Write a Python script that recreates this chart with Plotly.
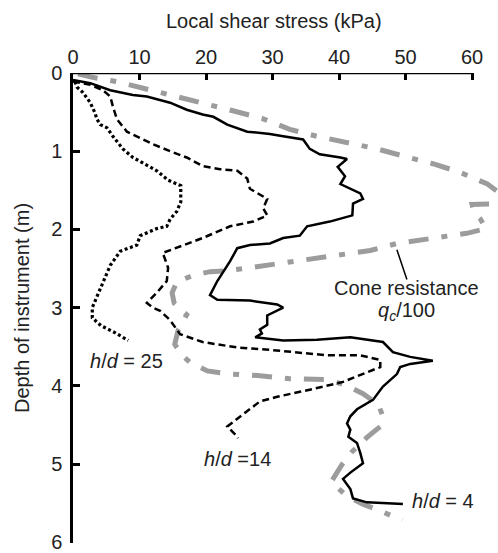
import plotly.graph_objects as go

# ---- data ----
# h/d = 4 (solid)
s4_x = [0, 2.6, 5.6, 9.0, 11.1, 14.6, 17.1, 19.5, 21.1, 23.2, 26.2, 29.6, 31.6, 34.6, 35.6, 37.1,
        40.2, 41.2, 39.8, 40.9, 40.2, 41.7, 43.2, 43.6, 42.1, 42.0, 38.6, 35.2, 34.1, 31.6, 29.6,
        26.6, 24.7, 23.6, 21.7, 20.6, 21.7, 26.6, 30.7, 31.6, 30.1, 29.2, 29.2, 28.1, 28.4, 27.4,
        31.6, 36.7, 41.7, 46.6, 48.1, 50.7, 54.1, 50.7, 49.2, 48.7, 46.6, 45.1, 42.7, 41.7, 41.2,
        41.7, 41.4, 42.7, 43.2, 43.6, 41.7, 40.6, 41.7, 42.1, 44.2, 49.6]
s4_y = [0.09, 0.13, 0.22, 0.28, 0.30, 0.38, 0.47, 0.53, 0.56, 0.66, 0.75, 0.78, 0.81, 0.85, 0.97, 1.04,
        1.08, 1.10, 1.20, 1.32, 1.42, 1.48, 1.54, 1.61, 1.67, 1.82, 1.90, 1.96, 2.08, 2.11, 2.18,
        2.20, 2.24, 2.41, 2.66, 2.84, 2.90, 2.91, 2.96, 3.00, 3.06, 3.10, 3.22, 3.28, 3.33, 3.38,
        3.42, 3.41, 3.38, 3.44, 3.57, 3.63, 3.68, 3.72, 3.76, 3.85, 4.01, 4.18, 4.30, 4.39, 4.48,
        4.56, 4.65, 4.73, 4.86, 4.99, 5.11, 5.19, 5.32, 5.44, 5.49, 5.51]

# h/d = 14 (dashed)
s14_x = [0, 2.6, 4.5, 5.6, 6.0, 6.6, 8.1, 9.6, 12.0, 14.6, 17.1, 19.5, 22.1, 24.7, 26.2, 26.6,
         28.1, 29.2, 28.6, 29.2, 27.1, 23.6, 19.5, 14.6, 13.5, 14.3, 14.1, 12.6, 11.1, 12.0, 13.1,
         14.6, 16.1, 19.5, 24.7, 29.6, 33.1, 38.2, 43.2, 46.2, 46.2, 43.6, 40.6, 35.6, 30.7, 28.1,
         26.6, 24.7, 23.2, 24.7, 24.8]
s14_y = [0.11, 0.15, 0.22, 0.30, 0.43, 0.59, 0.75, 0.81, 0.91, 1.00, 1.08, 1.19, 1.23, 1.25, 1.35, 1.48,
         1.56, 1.61, 1.73, 1.82, 1.90, 1.96, 2.11, 2.27, 2.30, 2.49, 2.66, 2.81, 2.94, 3.00, 3.04,
         3.16, 3.34, 3.44, 3.51, 3.54, 3.57, 3.61, 3.61, 3.67, 3.76, 3.85, 3.95, 4.05, 4.14, 4.20,
         4.30, 4.43, 4.52, 4.65, 4.67]

# h/d = 25 (dotted)
s25_x = [0.3, 0.6, 1.5, 2.3, 2.6, 3.3, 3.6, 4.1, 5.1, 6.0, 7.5, 9.0, 11.1, 12.6, 14.3, 16.2, 16.2,
         15.6, 14.6, 14.1, 12.6, 10.1, 9.6, 7.1, 5.6, 4.5, 3.5, 2.9, 2.9, 4.2, 6.3, 8.3]
s25_y = [0.11, 0.18, 0.25, 0.34, 0.38, 0.51, 0.59, 0.66, 0.70, 0.81, 0.97, 1.08, 1.18, 1.25, 1.37, 1.44, 1.65,
         1.77, 1.87, 1.96, 1.99, 2.08, 2.20, 2.28, 2.46, 2.68, 2.87, 3.00, 3.13, 3.23, 3.32, 3.42]

# cone resistance qc/100 (grey dash-dot)
qc_x = [0.75, 2.6, 6.6, 10.5, 15.0, 19.5, 23.9, 28.4, 32.6, 36.7, 41.2, 45.7, 49.6, 54.1, 58.2, 62.3,
        63.9, 65.0, 60.0, 60.3, 61.2, 62.1, 59.2, 56.7, 53.2, 48.7, 44.7, 39.7, 35.6, 31.6, 26.6,
        23.2, 20.6, 18.0, 15.6, 14.9, 15.2, 17.1, 15.8, 15.3, 16.4, 17.6, 20.2, 23.6, 28.1, 32.6,
        38.2, 40.9, 43.6, 45.9, 46.6, 46.2, 44.2, 42.0, 40.5, 38.8, 41.2, 43.5, 46.5, 49.5]
qc_y = [0.01, 0.05, 0.11, 0.19, 0.29, 0.38, 0.48, 0.58, 0.72, 0.81, 0.89, 0.97, 1.06, 1.16, 1.27, 1.42,
        1.52, 1.67, 1.68, 1.78, 1.86, 1.99, 2.05, 2.08, 2.11, 2.18, 2.27, 2.33, 2.37, 2.43, 2.49,
        2.53, 2.54, 2.59, 2.67, 2.81, 2.94, 3.09, 3.29, 3.47, 3.61, 3.70, 3.81, 3.85, 3.87, 3.91,
        3.92, 3.99, 4.10, 4.24, 4.39, 4.52, 4.66, 4.84, 5.00, 5.23, 5.41, 5.51, 5.61, 5.72]

x_ticks = [0, 10, 20, 30, 40, 50, 60]
y_ticks = [0, 1, 2, 3, 4, 5, 6]

FONT = "Liberation Sans, Arial, sans-serif"
fig = go.Figure()

fig.add_trace(go.Scatter(x=qc_x, y=qc_y, mode="lines",
                         line=dict(color="#9c9c9c", width=5, dash="20px,13px,6px,13px")))
fig.add_trace(go.Scatter(x=s25_x, y=s25_y, mode="lines",
                         line=dict(color="black", width=3.2, dash="3px,2.6px")))
fig.add_trace(go.Scatter(x=s14_x, y=s14_y, mode="lines",
                         line=dict(color="black", width=2.5, dash="7px,4px")))
fig.add_trace(go.Scatter(x=s4_x, y=s4_y, mode="lines",
                         line=dict(color="black", width=2.5)))

# top axis line from 0 to 60
fig.add_shape(type="line", x0=0, x1=60, y0=0, y1=0, xref="x", yref="y",
              line=dict(color="black", width=2.5), layer="above")
# leader line for cone resistance label
fig.add_shape(type="line", x0=48.7, y0=2.26, x1=50.2, y1=2.64, xref="x", yref="y",
              line=dict(color="black", width=1.5))

ann_font = dict(family=FONT, size=20, color="#222")
annotations = [
    dict(x=8.1, y=3.68, text="<i>h</i>/<i>d</i> = 25"),
    dict(x=24.8, y=4.94, text="<i>h</i>/<i>d</i> =14"),
    dict(x=55.7, y=5.47, text="<i>h</i>/<i>d</i> = 4"),
    dict(x=50.2, y=2.75, text="Cone resistance"),
    dict(x=50.2, y=3.05, text="<i>q<sub>c</sub></i>/100"),
]
for a in annotations:
    fig.add_annotation(xref="x", yref="y", showarrow=False, xanchor="center", yanchor="middle",
                       font=ann_font, **a)

fig.add_annotation(xref="paper", yref="paper", x=(273.5 - 73) / 425, y=(543 - 21) / 470,
                   text="Local shear stress (kPa)", showarrow=False, xanchor="center",
                   yanchor="middle", font=ann_font)
fig.add_annotation(xref="paper", yref="paper", x=(22 - 73) / 425, y=0.5,
                   text="Depth of instrument (m)", showarrow=False, xanchor="center",
                   yanchor="middle", textangle=-90, font=ann_font)

fig.update_layout(
    width=498, height=553,
    margin=dict(l=73, r=0, t=73, b=10, autoexpand=False),
    paper_bgcolor="white", plot_bgcolor="white",
    showlegend=False,
    font=dict(family=FONT, size=20, color="#222"),
    xaxis=dict(side="top", range=[0, 63.9], tickvals=x_ticks, ticktext=[str(v) for v in x_ticks],
               ticks="inside", ticklen=7, tickwidth=2.5, tickcolor="black",
               showline=False, showgrid=False, zeroline=False, ticklabelstandoff=4,
               ticklabeloverflow="allow", automargin=False,
               tickfont=dict(family=FONT, size=20, color="#222")),
    yaxis=dict(range=[6.01, 0], tickvals=y_ticks, ticktext=[str(v) for v in y_ticks],
               ticks="inside", ticklen=7, tickwidth=2.5, tickcolor="black",
               showline=True, linecolor="black", linewidth=2.5,
               showgrid=False, zeroline=False, ticklabelstandoff=4,
               ticklabeloverflow="allow", automargin=False,
               tickfont=dict(family=FONT, size=20, color="#222")),
)

fig.write_html("out.html")
